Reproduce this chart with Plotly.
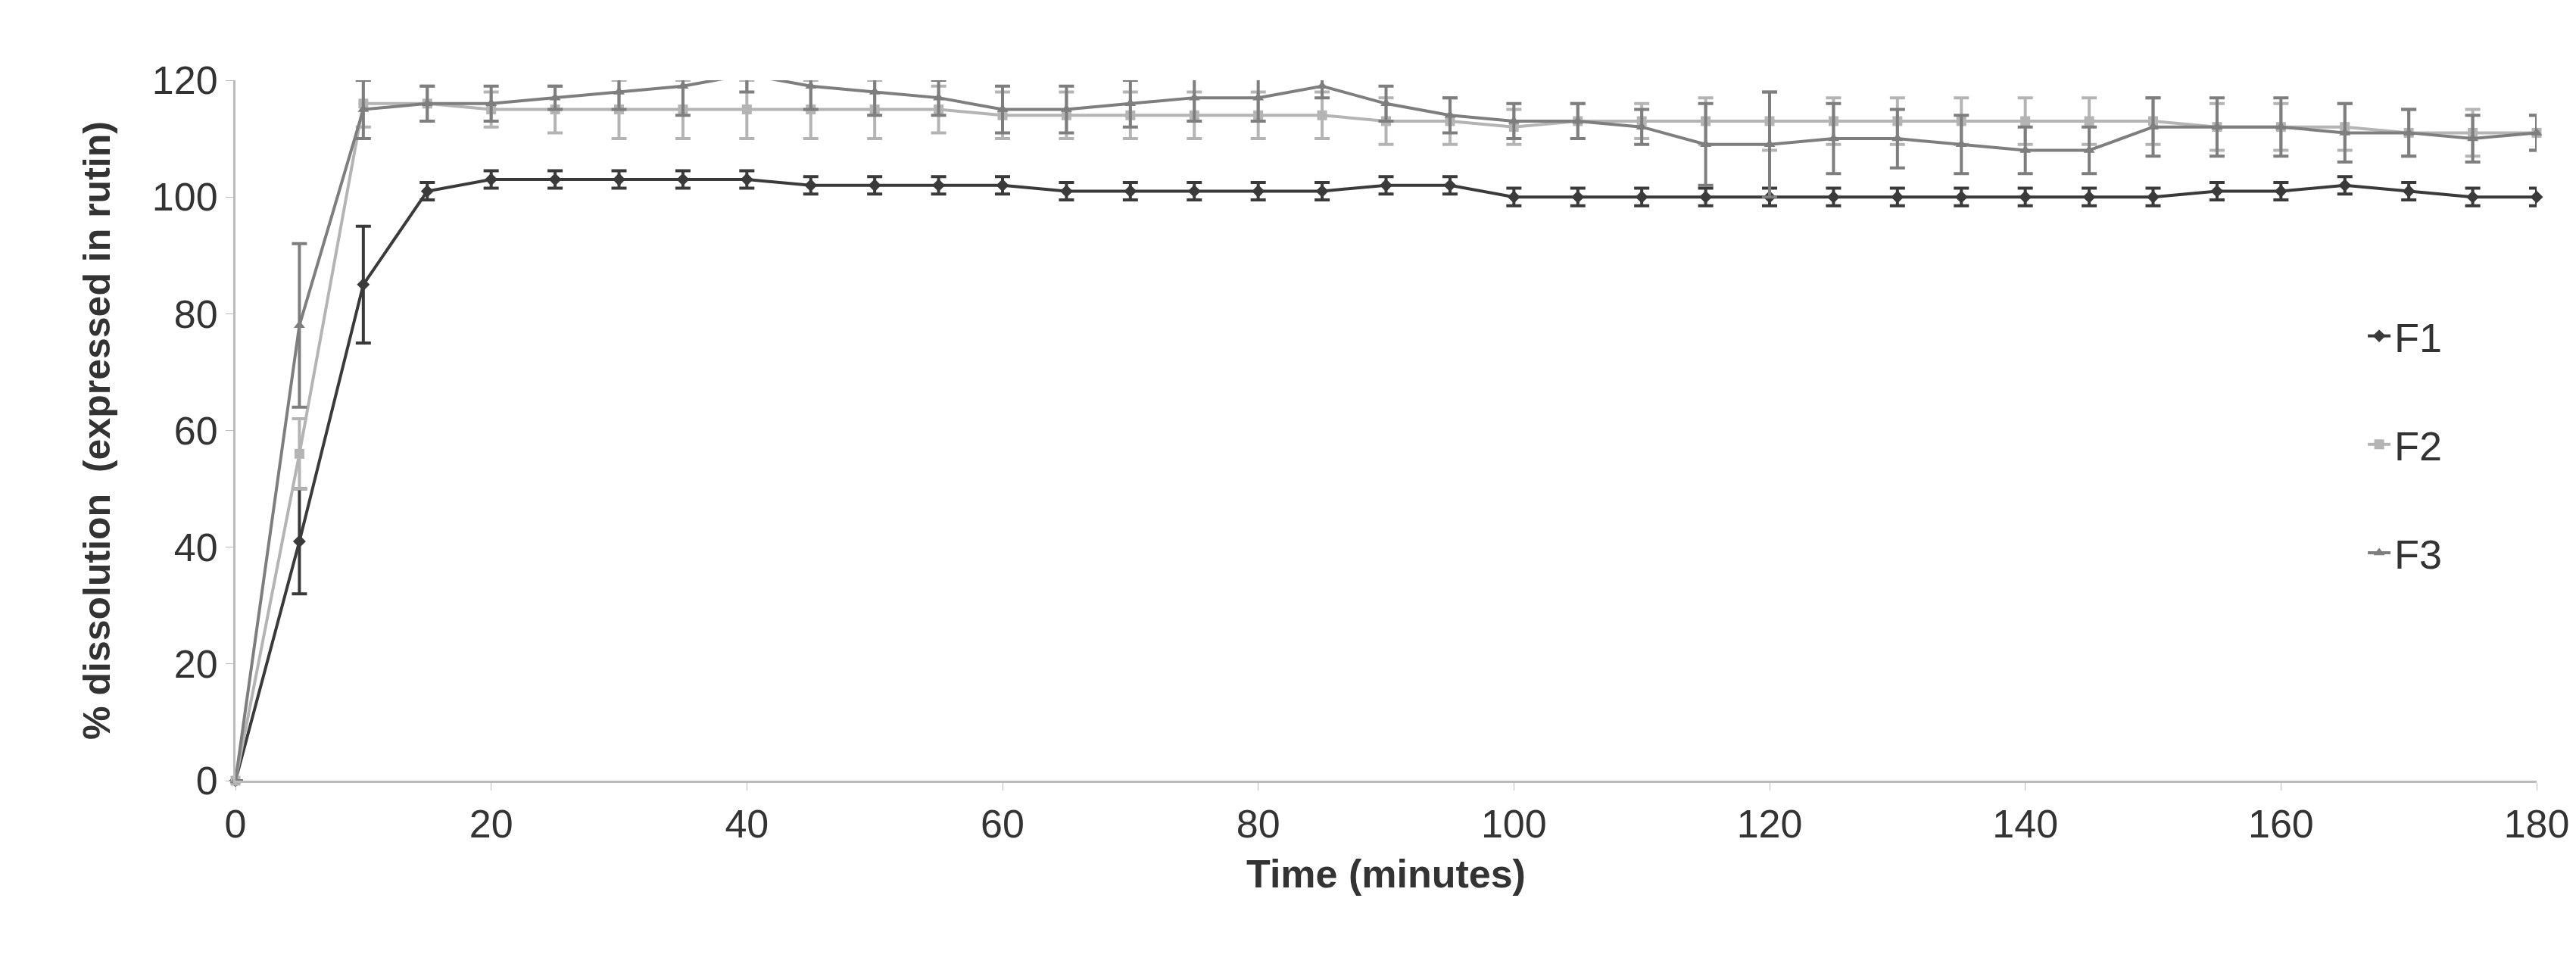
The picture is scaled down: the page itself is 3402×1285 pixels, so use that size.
import plotly.graph_objects as go

time = list(range(0, 185, 5))
f1 = [0, 41, 85, 101, 103, 103, 103, 103, 103, 102, 102, 102, 102, 101, 101, 101, 101, 101, 102, 102, 100, 100, 100, 100, 100, 100, 100, 100, 100, 100, 100, 101, 101, 102, 101, 100, 100]
f1_err = [0, 9, 10, 1.5, 1.5, 1.5, 1.5, 1.5, 1.5, 1.5, 1.5, 1.5, 1.5, 1.5, 1.5, 1.5, 1.5, 1.5, 1.5, 1.5, 1.5, 1.5, 1.5, 1.5, 1.5, 1.5, 1.5, 1.5, 1.5, 1.5, 1.5, 1.5, 1.5, 1.5, 1.5, 1.5, 1.5]
f2 = [0, 56, 116, 116, 115, 115, 115, 115, 115, 115, 115, 115, 114, 114, 114, 114, 114, 114, 113, 113, 112, 113, 113, 113, 113, 113, 113, 113, 113, 113, 113, 112, 112, 112, 111, 111, 111]
f2_err = [0, 6, 4, 3, 3, 4, 5, 5, 5, 5, 5, 4, 4, 4, 4, 4, 4, 4, 4, 4, 3, 3, 3, 4, 5, 4, 4, 4, 4, 4, 4, 4, 4, 4, 4, 4, 3]
f3 = [0, 78, 115, 116, 116, 117, 118, 119, 121, 119, 118, 117, 115, 115, 116, 117, 117, 119, 116, 114, 113, 113, 112, 109, 109, 110, 110, 109, 108, 108, 112, 112, 112, 111, 111, 110, 111]
f3_err = [0, 14, 5, 3, 3, 2, 3, 5, 3, 4, 4, 3, 4, 4, 4, 4, 4, 2, 3, 3, 3, 3, 3, 7, 9, 6, 5, 5, 4, 4, 5, 5, 5, 5, 4, 4, 3]

series = [("F1", f1, f1_err, "#3a3a3a", "diamond"),
          ("F2", f2, f2_err, "#b4b4b4", "square"),
          ("F3", f3, f3_err, "#7e7e7e", "triangle-up")]

fig = go.Figure()
for name, y, e, c, sym in series:
    fig.add_trace(go.Scatter(
        x=time, y=y, name=name, legendgroup=name, mode="lines+markers", cliponaxis=False,
        line=dict(color=c, width=4), marker=dict(symbol=sym, size=13, color=c),
        error_y=dict(type="data", array=e, visible=True, color=c, thickness=4, width=10)))

fig.update_layout(
    width=3402, height=1285, paper_bgcolor="white", plot_bgcolor="white",
    margin=dict(l=303, r=60, t=98, b=262),
    font=dict(family="Liberation Sans, Arial", size=52, color="#333333"),
    legend=dict(x=0.925, y=0.68, xanchor="left", yanchor="top", tracegroupgap=70,
                font=dict(size=54, color="#333333"), bgcolor="rgba(0,0,0,0)"),
    xaxis=dict(range=[0, 180], tickvals=list(range(0, 181, 20)), showgrid=False,
               showline=True, linecolor="#bbbbbb", linewidth=3, ticks="outside",
               ticklen=10, tickcolor="#bbbbbb", zeroline=False,
               title=dict(text="<b>Time (minutes)</b>", font=dict(size=52, color="#333333"), standoff=20)),
    yaxis=dict(range=[0, 120], tickvals=list(range(0, 121, 20)), showgrid=False,
               showline=True, linecolor="#bbbbbb", linewidth=3, ticks="outside",
               ticklen=10, tickcolor="#bbbbbb", zeroline=False,
               title=dict(text="<b>% dissolution  (expressed in rutin)</b>", font=dict(size=50, color="#333333"), standoff=40)),
)
fig.write_html("out.html")
